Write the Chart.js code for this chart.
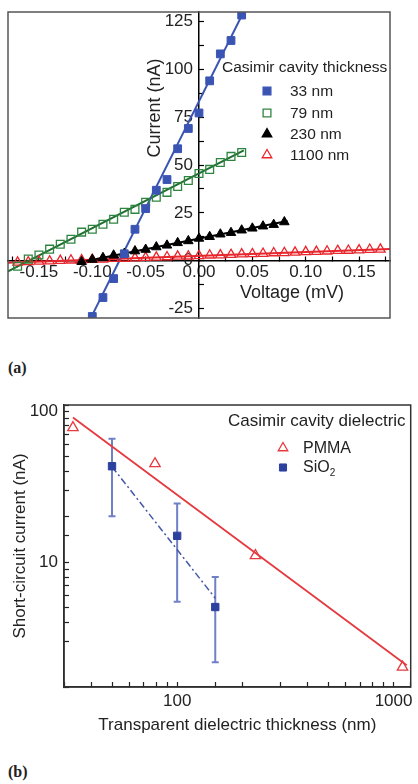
<!DOCTYPE html>
<html><head><meta charset="utf-8">
<script src="https://cdn.jsdelivr.net/npm/chart.js@4.4.1/dist/chart.umd.min.js"></script>
<style>
html,body{margin:0;padding:0;background:#fff;width:418px;height:784px;overflow:hidden;}
#wrapA{position:absolute;left:0;top:0;width:418px;height:330px;}
#wrapB{position:absolute;left:0;top:390px;width:418px;height:360px;}
.panel{position:absolute;left:8px;font-family:'Liberation Serif','DejaVu Serif',serif;font-size:16px;font-weight:bold;color:#222;line-height:18px;}
</style></head><body>
<div id="wrapA"><canvas id="chartA" width="418" height="330"></canvas></div>
<div class="panel" style="top:359px">(a)</div>
<div id="wrapB"><canvas id="chartB" width="418" height="360"></canvas></div>
<div class="panel" style="top:763px">(b)</div>
<script>
// ---------- Panel (a) data : I-V curves ----------
const seriesNamesA = ['33 nm', '79 nm', '230 nm', '1100 nm'];

const voltage33 = [-0.10,-0.09,-0.08,-0.07,-0.06,-0.05,-0.04,-0.03,-0.02,-0.01,0.00,0.01,0.02,0.03,0.04];
const current33 = [-29.2,-19.3,-9.4,3.6,16.4,27.2,36.8,42.4,58.5,69.1,77.2,94.0,108.1,115.1,128.4];
const fitVoltage33 = [-0.11, 0.05];
const fitCurrent33 = [-39.6, 139.2];

const voltage79 = [-0.17,-0.16,-0.15,-0.14,-0.13,-0.12,-0.11,-0.10,-0.09,-0.08,-0.07,-0.06,-0.05,-0.04,-0.03,-0.02,-0.01,0.00,0.01,0.02,0.03,0.04];
const current79 = [-2.9,0.8,2.9,6.0,8.6,11.2,14.9,16.4,19.0,21.6,25.3,26.8,30.5,33.1,35.7,38.8,41.9,45.6,47.7,51.3,54.5,56.5];
const fitVoltage79 = [-0.19, 0.042];
const fitCurrent79 = [-8.7, 57.6];

const voltage230 = [-0.11,-0.10,-0.09,-0.08,-0.07,-0.06,-0.05,-0.04,-0.03,-0.02,-0.01,0.00,0.01,0.02,0.03,0.04,0.05,0.06,0.07,0.08];
const current230 = [-0.6,0.6,1.5,2.8,3.7,5.0,5.8,7.1,8.0,9.3,10.3,11.6,12.5,13.8,14.6,15.9,16.9,18.0,18.8,20.2];
const fitVoltage230 = [-0.115, 0.083];
const fitCurrent230 = [-1.2, 20.7];

const voltage1100 = [-0.17,-0.16,-0.15,-0.14,-0.13,-0.12,-0.11,-0.10,-0.09,-0.08,-0.07,-0.06,-0.05,-0.04,-0.03,-0.02,-0.01,0.00,0.01,0.02,0.03,0.04,0.05,0.06,0.07,0.08,0.09,0.10,0.11,0.12,0.13,0.14,0.15,0.16,0.17];
const current1100 = [-0.9,-0.7,-0.4,-0.3,0.0,0.2,0.3,0.6,0.7,1.0,1.1,1.3,1.6,1.7,1.9,2.2,2.3,2.5,2.8,2.9,3.1,3.4,3.5,3.7,4.0,4.1,4.3,4.6,4.7,4.9,5.2,5.3,5.5,5.8,5.9];
const fitVoltage1100 = [-0.19, 0.19];
const fitCurrent1100 = [-1.3, 6.3];

const xTickLabelsA = [-0.15,-0.10,-0.05,0.00,0.05,0.10,0.15];
const yTickLabelsA = [-25,0,25,50,75,100,125];

// ---------- Panel (b) data : short-circuit current vs thickness ----------
const seriesNamesB = ['PMMA', 'SiO2'];
const thicknessPMMA = [33, 79, 230, 1100];
const currentPMMA = [78, 45, 11.1, 2.03];
const fitThicknessPMMA = [33, 1150];
const fitCurrentPMMA = [91, 2.09];

const thicknessSiO2 = [50, 100, 150];
const currentSiO2 = [43.3, 15.0, 5.07];
const errHighSiO2 = [65.9, 24.5, 8.0];
const errLowSiO2 = [20.2, 5.5, 2.19];
const fitThicknessSiO2 = [50, 150];
const fitCurrentSiO2 = [43, 5.8];

const xTickLabelsB = [100, 1000];
const yTickLabelsB = [10, 100];

// ---------- helpers ----------
const FONT = "'Liberation Sans', Arial, sans-serif";
Chart.defaults.font.family = FONT;
Chart.defaults.color = '#222';
const pts = (xs, ys) => xs.map((x, i) => ({x: x, y: ys[i]}));
const pick = (v, list) => list.find(n => Math.abs(n - v) < 1e-6);

function drawMarker(ctx, style, x, y, r, fill, stroke, lw) {
  ctx.save();
  ctx.fillStyle = fill; ctx.strokeStyle = stroke; ctx.lineWidth = lw;
  if (Chart.helpers && Chart.helpers.drawPoint) {
    Chart.helpers.drawPoint(ctx, {pointStyle: style, rotation: 0, radius: r, borderWidth: lw}, x, y);
  }
  ctx.restore();
}

const BLUE = '#3a54b4', GREEN = '#2f8540', BLACK = '#000', RED = '#e8262c';

// ---------- chart (a) ----------
const decoA = {
  id: 'decoA',
  afterLayout(chart) {
    // put the vertical axis on the x = 0 line of the horizontal scale
    const ys = chart.scales.y;
    const px = chart.scales.x.getPixelForValue(0);
    ys.left = px - 80; ys.right = px;
  },
  afterDraw(chart) {
    const ctx = chart.ctx, a = chart.chartArea;
    ctx.save();
    ctx.strokeStyle = '#555'; ctx.lineWidth = 1.5;
    ctx.strokeRect(a.left, a.top, a.right - a.left, a.bottom - a.top);
    ctx.fillStyle = '#222';
    ctx.font = '18px ' + FONT;
    ctx.textAlign = 'center'; ctx.textBaseline = 'middle';
    ctx.fillText('Voltage (mV)', 292, 293);
    ctx.save(); ctx.translate(155, 108); ctx.rotate(-Math.PI / 2);
    ctx.fillText('Current (nA)', 0, 0); ctx.restore();
    // legend
    ctx.textAlign = 'left';
    ctx.font = '15.5px ' + FONT;
    ctx.fillText('Casimir cavity thickness', 222, 68);
    const rows = [91, 113, 134, 155];
    const mk = [['rect', BLUE, BLUE], ['rect', 'rgba(0,0,0,0)', GREEN], ['triangle', BLACK, BLACK], ['triangle', 'rgba(0,0,0,0)', RED]];
    seriesNamesA.forEach((name, i) => {
      drawMarker(ctx, mk[i][0], 267, rows[i], 5.5, mk[i][1], mk[i][2], 1.3);
      ctx.fillStyle = '#222';
      ctx.fillText(name, 290, rows[i] + 1);
    });
    ctx.restore();
  }
};

const gridA = {display: true, drawOnChartArea: false, drawTicks: true, tickLength: -5, tickColor: '#000', tickWidth: 1.2};
const borderA = {display: true, color: '#000', width: 1.5};

new Chart(document.getElementById('chartA'), {
  type: 'scatter',
  data: {
    datasets: [
      {label: seriesNamesA[0], data: pts(voltage33, current33), pointStyle: 'rect', pointRadius: 5.5, backgroundColor: BLUE, borderColor: BLUE, borderWidth: 1, order: 0},
      {label: seriesNamesA[1], data: pts(voltage79, current79), pointStyle: 'rect', pointRadius: 5.5, backgroundColor: 'rgba(0,0,0,0)', borderColor: GREEN, borderWidth: 1.3, order: 1},
      {label: seriesNamesA[2], data: pts(voltage230, current230), pointStyle: 'triangle', pointRadius: 5.5, backgroundColor: BLACK, borderColor: BLACK, borderWidth: 1, order: 2},
      {label: seriesNamesA[3], data: pts(voltage1100, current1100), pointStyle: 'triangle', pointRadius: 5.5, backgroundColor: 'rgba(0,0,0,0)', borderColor: RED, borderWidth: 1.3, order: 3},
      {label: 'fit33', data: pts(fitVoltage33, fitCurrent33), showLine: true, pointRadius: 0, borderColor: BLUE, borderWidth: 2, order: 10},
      {label: 'fit79', data: pts(fitVoltage79, fitCurrent79), showLine: true, pointRadius: 0, borderColor: '#1f6e30', borderWidth: 2, order: 11},
      {label: 'fit230', data: pts(fitVoltage230, fitCurrent230), showLine: true, pointRadius: 0, borderColor: BLACK, borderWidth: 2, order: 12},
      {label: 'fit1100', data: pts(fitVoltage1100, fitCurrent1100), showLine: true, pointRadius: 0, borderColor: RED, borderWidth: 2, order: 13}
    ]
  },
  options: {
    responsive: false, animation: false, devicePixelRatio: 1,
    layout: {padding: {left: 8, top: 12, right: 28, bottom: 12}},
    plugins: {legend: {display: false}, tooltip: {enabled: false}},
    scales: {
      x: {
        type: 'linear', min: -0.179, max: 0.179, position: {y: 0},
        afterFit(s) { s.height = 0; s.paddingLeft = 0; s.paddingRight = 0; },
        grid: gridA, border: borderA,
        ticks: {stepSize: 0.025, includeBounds: false, autoSkip: false, maxRotation: 0, padding: 6, color: '#222', font: {size: 17},
          callback: (v) => { const n = pick(v, xTickLabelsA); return n === undefined ? '' : n.toFixed(2); }}
      },
      y: {
        type: 'linear', min: -30, max: 130, position: 'left',
        afterFit(s) { s.width = 0; s.paddingTop = 0; s.paddingBottom = 0; },
        grid: gridA, border: borderA,
        ticks: {stepSize: 12.5, includeBounds: false, autoSkip: false, padding: 11, color: '#222', font: {size: 17},
          callback: (v) => { const n = pick(v, yTickLabelsA); return n === undefined ? '' : String(n); }}
      }
    }
  },
  plugins: [decoA]
});

// ---------- chart (b) ----------
const RED_B = '#e53a3f', BLUE_B = '#2c409e', ERR_B = '#6f80c6', FIT_B = '#4558a8';
const decoB = {
  id: 'decoB',
  beforeDatasetsDraw(chart) {
    const ctx = chart.ctx, xs = chart.scales.x, ys = chart.scales.y;
    ctx.save();
    ctx.strokeStyle = ERR_B; ctx.lineWidth = 2;
    thicknessSiO2.forEach((t, i) => {
      const px = xs.getPixelForValue(t);
      const pHi = ys.getPixelForValue(errHighSiO2[i]);
      const pLo = ys.getPixelForValue(errLowSiO2[i]);
      ctx.beginPath();
      ctx.moveTo(px, pHi); ctx.lineTo(px, pLo);
      ctx.moveTo(px - 3.5, pHi); ctx.lineTo(px + 3.5, pHi);
      ctx.moveTo(px - 3.5, pLo); ctx.lineTo(px + 3.5, pLo);
      ctx.stroke();
    });
    ctx.restore();
  },
  afterDraw(chart) {
    const ctx = chart.ctx, a = chart.chartArea;
    ctx.save();
    ctx.strokeStyle = '#333'; ctx.lineWidth = 1.5;
    ctx.strokeRect(a.left, a.top, a.right - a.left, a.bottom - a.top);
    ctx.fillStyle = '#222';
    ctx.textAlign = 'left'; ctx.textBaseline = 'middle';
    ctx.font = '17px ' + FONT;
    ctx.fillText('Casimir cavity dielectric', 228, 31);
    drawMarker(ctx, 'triangle', 283, 58, 5.5, 'rgba(0,0,0,0)', RED_B, 1.3);
    drawMarker(ctx, 'rect', 283, 77.5, 5, BLUE_B, BLUE_B, 1);
    ctx.fillStyle = '#222';
    ctx.font = '16px ' + FONT;
    ctx.fillText(seriesNamesB[0], 303, 58.5);
    ctx.fillText('SiO', 303, 78);
    const w = ctx.measureText('SiO').width;
    ctx.font = '10px ' + FONT;
    ctx.fillText('2', 303 + w, 83);
    ctx.restore();
  }
};

const logLabel = (list) => (v) => { const n = pick(v, list); return n === undefined ? '' : String(n); };
const gridB = {display: true, drawOnChartArea: false, drawTicks: true, tickLength: -5, tickColor: '#222', tickWidth: 1.2};
const borderB = {display: true, color: '#222', width: 1.5};

new Chart(document.getElementById('chartB'), {
  type: 'scatter',
  data: {
    datasets: [
      {label: 'SiO2', data: pts(thicknessSiO2, currentSiO2), pointStyle: 'rect', pointRadius: 5.2, backgroundColor: BLUE_B, borderColor: BLUE_B, borderWidth: 1, order: 0},
      {label: 'PMMA', data: pts(thicknessPMMA, currentPMMA), pointStyle: 'triangle', pointRadius: 6, backgroundColor: 'rgba(0,0,0,0)', borderColor: RED_B, borderWidth: 1.3, order: 1},
      {label: 'fitSiO2', data: pts(fitThicknessSiO2, fitCurrentSiO2), showLine: true, pointRadius: 0, borderColor: FIT_B, borderWidth: 1.5, borderDash: [7, 3, 2, 3], order: 5},
      {label: 'fitPMMA', data: pts(fitThicknessPMMA, fitCurrentPMMA), showLine: true, pointRadius: 0, borderColor: RED_B, borderWidth: 1.8, order: 6}
    ]
  },
  options: {
    responsive: false, animation: false, devicePixelRatio: 1,
    layout: {padding: {left: 0, top: 15, right: 1, bottom: 0}},
    plugins: {legend: {display: false}, tooltip: {enabled: false}},
    scales: {
      x: {
        type: 'logarithmic', min: 30, max: 1200, position: 'bottom',
        afterFit(s) { s.height = 63; s.paddingLeft = 0; s.paddingRight = 0; },
        grid: gridB, border: borderB,
        title: {display: true, text: 'Transparent dielectric thickness (nm)', font: {size: 17}, color: '#222', padding: {top: 0, bottom: 14}},
        ticks: {autoSkip: false, maxRotation: 0, padding: 9.5, color: '#222', font: {size: 17}, callback: logLabel(xTickLabelsB)}
      },
      y: {
        type: 'logarithmic', min: 1.5, max: 110, position: 'left',
        afterFit(s) { s.width = 64; s.paddingTop = 0; s.paddingBottom = 0; },
        grid: gridB, border: borderB,
        title: {display: true, text: 'Short-circuit current (nA)', font: {size: 17}, color: '#222', padding: {top: 10, bottom: 0}},
        ticks: {autoSkip: false, padding: 11, color: '#222', font: {size: 17}, callback: logLabel(yTickLabelsB)}
      }
    }
  },
  plugins: [decoB]
});
</script>
</body></html>
